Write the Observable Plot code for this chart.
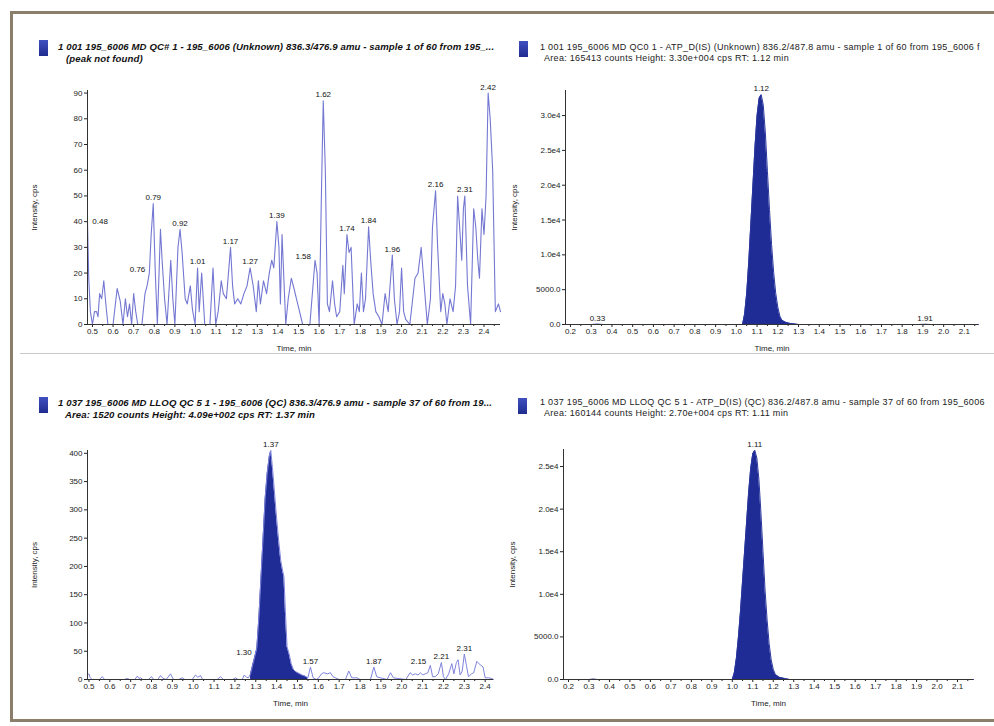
<!DOCTYPE html>
<html><head><meta charset="utf-8">
<script src="https://cdn.jsdelivr.net/npm/d3@7"></script>
<script src="https://cdn.jsdelivr.net/npm/@observablehq/plot@0.6"></script>
<style>
body{margin:0;background:#fff;font-family:"Liberation Sans",Arial,sans-serif;}
#page{position:relative;width:994px;height:726px;overflow:hidden;background:#fff;}
#frame{position:absolute;left:10px;top:11px;width:1000px;height:711px;border:3px solid #8b7f6c;box-sizing:border-box;}
.sq{position:absolute;width:9px;height:16px;background:linear-gradient(#4050c0,#1f2c8f);}
.title{position:absolute;white-space:nowrap;color:#111;}
.bi{font-weight:bold;font-style:italic;font-size:9.6px;letter-spacing:0.1px;line-height:12px;}
.rg{font-size:9px;letter-spacing:0.3px;line-height:11px;color:#222;}
.sep{position:absolute;height:1px;background:#c9c9c9;}
.chart{position:absolute;}
</style></head>
<body><div id="page"><div id="frame"></div></div>
<script>
// ---------- DATA ----------
const titleTL = ["1 001 195_6006 MD QC# 1 - 195_6006 (Unknown) 836.3/476.9 amu - sample 1 of 60 from 195_...", "(peak not found)"];
const titleTR = ["1 001 195_6006 MD QC0 1 - ATP_D(IS) (Unknown) 836.2/487.8 amu - sample 1 of 60 from 195_6006 f", "Area: 165413 counts  Height: 3.30e+004 cps  RT: 1.12 min"];
const titleBL = ["1 037 195_6006 MD LLOQ QC 5 1 - 195_6006 (QC) 836.3/476.9 amu - sample 37 of 60 from 19...", "Area: 1520 counts  Height: 4.09e+002 cps  RT: 1.37 min"];
const titleBR = ["1 037 195_6006 MD LLOQ QC 5 1 - ATP_D(IS) (QC) 836.2/487.8 amu - sample 37 of 60 from 195_6006", "Area: 160144 counts  Height: 2.70e+004 cps  RT: 1.11 min"];

const xLabel = "Time, min";
const yLabel = "Intensity, cps";

const xTicksLeft = [0.5,0.6,0.7,0.8,0.9,1.0,1.1,1.2,1.3,1.4,1.5,1.6,1.7,1.8,1.9,2.0,2.1,2.2,2.3,2.4];
const xTicksRight = [0.2,0.3,0.4,0.5,0.6,0.7,0.8,0.9,1.0,1.1,1.2,1.3,1.4,1.5,1.6,1.7,1.8,1.9,2.0,2.1];

const yTicksTL = [0,10,20,30,40,50,60,70,80,90];
const yLabelsTL = ["0","10","20","30","40","50","60","70","80","90"];
const yTicksTR = [0,5000,10000,15000,20000,25000,30000];
const yLabelsTR = ["0.0","5000.0","1.0e4","1.5e4","2.0e4","2.5e4","3.0e4"];
const yTicksBL = [0,50,100,150,200,250,300,350,400];
const yLabelsBL = ["0","50","100","150","200","250","300","350","400"];
const yTicksBR = [0,5000,10000,15000,20000,25000];
const yLabelsBR = ["0.0","5000.0","1.0e4","1.5e4","2.0e4","2.5e4"];

// Top-left: analyte, QC 1 (noise only)
const timeTL = [0.476,0.482,0.490,0.500,0.510,0.520,0.527,0.535,0.545,0.555,0.565,0.575,0.600,0.620,0.635,0.648,0.660,0.670,0.680,0.690,0.700,0.710,0.720,0.740,0.755,0.765,0.776,0.785,0.795,0.805,0.815,0.830,0.838,0.850,0.862,0.880,0.890,0.900,0.915,0.925,0.935,0.950,0.960,0.975,0.985,0.998,1.010,1.018,1.030,1.045,1.070,1.085,1.098,1.110,1.125,1.135,1.150,1.170,1.180,1.190,1.205,1.220,1.235,1.250,1.265,1.280,1.295,1.305,1.315,1.330,1.345,1.358,1.370,1.380,1.395,1.405,1.412,1.420,1.438,1.450,1.465,1.478,1.490,1.505,1.520,1.555,1.570,1.580,1.590,1.600,1.612,1.620,1.630,1.640,1.650,1.665,1.675,1.685,1.700,1.715,1.722,1.735,1.745,1.755,1.770,1.785,1.795,1.805,1.815,1.825,1.840,1.850,1.862,1.875,1.890,1.905,1.920,1.935,1.955,1.965,1.978,1.990,2.000,2.010,2.020,2.040,2.065,2.080,2.095,2.105,2.125,2.140,2.150,2.165,2.175,2.190,2.200,2.210,2.220,2.235,2.250,2.262,2.272,2.280,2.292,2.300,2.307,2.320,2.335,2.350,2.360,2.370,2.378,2.390,2.400,2.410,2.420,2.430,2.442,2.455,2.470,2.480];
const intensityTL = [40,18,5,0,5,5,3,12,10,17,8,0,0,14,9,0,10,3,8,0,12,5,0,0,12,15,20,35,47,20,0,37,25,10,0,25,10,0,30,37,28,10,8,15,6,0,22,5,20,0,0,22,0,5,17,12,10,30,15,8,10,8,12,15,22,15,5,17,8,17,12,20,25,22,40,30,8,35,0,10,18,14,10,5,0,0,15,25,20,0,55,87,60,8,5,17,8,3,5,23,12,35,28,30,0,8,5,20,5,10,38,25,12,5,3,0,12,5,27,10,0,5,22,5,2,0,18,20,30,20,0,10,38,52,30,5,12,8,0,10,5,15,50,40,25,45,50,15,0,45,38,25,18,45,35,50,90,80,60,5,8,5];
const peakTimeTL = [0.48,0.776,0.795,0.925,1.01,1.17,1.265,1.395,1.58,1.62,1.735,1.84,1.955,2.165,2.307,2.42];
const peakValueTL = [40,20,47,37,22,30,22,40,25,87,35,38,27,52,50,90];
const peakLabelTL = ["0.48","0.76","0.79","0.92","1.01","1.17","1.27","1.39","1.58","1.62","1.74","1.84","1.96","2.16","2.31","2.42"];
const peakSideTL = ["right","left","top","top","top","top","top","top","left","top","top","top","top","top","top","top"];

// Top-right: internal standard, QC 1
const timeTR = [0.176,0.30,0.33,0.36,1.00,1.03,1.04,1.05,1.06,1.07,1.08,1.09,1.10,1.11,1.12,1.13,1.14,1.15,1.16,1.17,1.18,1.19,1.20,1.21,1.22,1.24,1.26,1.28,1.30,1.88,1.91,1.94,2.168];
const intensityTR = [0,0,60,0,0,0,1500,4500,9000,14500,20000,25500,30000,32500,33000,31500,27500,22000,16500,11500,7500,4500,2500,1200,600,300,150,80,0,0,40,0,0];
const peakTimeTR = [0.33,1.12,1.91];
const peakValueTR = [60,33000,40];
const peakLabelTR = ["0.33","1.12","1.91"];
const peakSideTR = ["top","top","top"];
const integTR = [1.02,1.31];

// Bottom-left: analyte, LLOQ QC 5
const timeBL = [0.493,0.500,0.505,0.515,0.550,0.564,0.575,0.670,0.684,0.695,0.720,0.732,0.740,0.748,0.758,0.785,0.800,0.810,0.830,0.843,0.855,0.870,0.891,0.905,0.930,0.947,0.960,0.995,1.011,1.022,1.035,1.045,1.115,1.131,1.145,1.190,1.203,1.215,1.235,1.245,1.255,1.265,1.275,1.285,1.295,1.305,1.315,1.325,1.335,1.345,1.355,1.365,1.372,1.380,1.390,1.400,1.410,1.420,1.430,1.435,1.442,1.450,1.460,1.470,1.480,1.490,1.500,1.510,1.520,1.535,1.550,1.562,1.575,1.590,1.602,1.615,1.626,1.645,1.658,1.670,1.682,1.700,1.730,1.746,1.760,1.786,1.800,1.850,1.866,1.880,1.898,1.930,1.946,1.960,1.978,2.020,2.040,2.052,2.065,2.078,2.090,2.100,2.113,2.125,2.137,2.148,2.160,2.175,2.190,2.200,2.210,2.225,2.240,2.250,2.262,2.270,2.280,2.290,2.300,2.310,2.320,2.335,2.345,2.360,2.370,2.380,2.390,2.400,2.415,2.430,2.440];
const intensityBL = [8,10,4,0,0,5,0,0,2,0,0,6,2,3,0,0,5,0,0,7,2,0,10,0,0,3,0,0,8,4,7,0,0,5,0,0,3,0,0,8,4,3,10,25,40,55,110,180,250,320,365,395,405,375,330,285,245,210,190,182,120,58,45,28,18,14,12,10,8,6,3,22,3,0,3,10,12,10,12,5,3,0,0,15,3,3,0,0,22,5,3,0,12,3,2,0,12,8,10,8,12,8,10,12,25,5,5,10,30,5,0,10,28,10,30,35,8,15,45,25,5,10,12,32,28,25,22,3,3,2,0];
const peakTimeBL = [1.30,1.372,1.562,1.866,2.137,2.19,2.30];
const peakValueBL = [40,405,22,22,25,30,45];
const peakLabelBL = ["1.30","1.37","1.57","1.87","2.15","2.21","2.31"];
const peakSideBL = ["left","top","top","top","left","top","top"];
const integBL = [1.27,1.555];

// Bottom-right: internal standard, LLOQ QC 5
const timeBR = [0.176,0.30,0.32,0.34,1.00,1.01,1.02,1.03,1.04,1.05,1.06,1.07,1.08,1.09,1.10,1.11,1.12,1.13,1.14,1.15,1.16,1.17,1.18,1.19,1.20,1.21,1.23,1.26,1.28,2.178];
const intensityBR = [0,0,60,0,0,800,2500,5000,8000,11500,15000,18500,22000,24800,26500,26900,26000,23500,19500,15000,10500,7000,4200,2300,1200,600,250,100,0,0];
const peakTimeBR = [1.11];
const peakValueBR = [26900];
const peakLabelBR = ["1.11"];
const peakSideBR = ["top"];
const integBR = [0.99,1.29];

// ---------- RENDER ----------
const page = document.getElementById("page");
function header(lines, left, top, cls, indent, sqLeft, sqTop) {
  const sq = document.createElement("div");
  sq.className = "sq"; sq.style.left = sqLeft + "px"; sq.style.top = sqTop + "px";
  page.appendChild(sq);
  const t = document.createElement("div");
  t.className = "title " + cls;
  t.style.left = left + "px"; t.style.top = top + "px";
  t.innerHTML = `<div>${lines[0]}</div><div style="padding-left:${indent}px">${lines[1]}</div>`;
  page.appendChild(t);
}
header(titleTL, 58, 41, "bi", 8, 39, 40);
header(titleTR, 540, 42, "rg", 4, 519, 41);
header(titleBL, 58, 397, "bi", 7, 39, 397);
header(titleBR, 540, 397, "rg", 4, 518, 398);
const sep = document.createElement("div");
sep.className = "sep"; sep.style.left = "20px"; sep.style.top = "353px"; sep.style.width = "974px";
page.appendChild(sep);

function chrom(o) {
  const data = o.t.map((t, i) => ({t, v: o.v[i]}));
  const peaks = o.pt.map((t, i) => ({t, v: o.pv[i], label: o.pl[i], side: o.ps[i]}));
  const minor = o.xTicks.map(d => +(d + 0.05).toFixed(2)).filter(d => d < o.xDomain[1]);
  const marks = [
    Plot.axisY({ticks: o.yTicks, tickFormat: d => o.yLabels[o.yTicks.indexOf(d)], tickSize: 3, tickPadding: 2,
      label: yLabel, labelAnchor: "center", labelArrow: false, labelOffset: o.yLabelOffset, fontSize: 8}),
    Plot.axisX({ticks: o.xTicks, tickFormat: d => d.toFixed(1), tickSize: 3, tickPadding: 1,
      label: xLabel, labelAnchor: "center", labelArrow: false, labelOffset: 26, fontSize: 8}),
    Plot.axisX({ticks: minor, tickSize: 2, tickFormat: () => "", label: null}),
  ];
  if (o.integ) {
    marks.push(Plot.areaY(data, {x: "t", y: "v", filter: d => d.t >= o.integ[0] && d.t <= o.integ[1], fill: "#1f2c95", curve: "linear"}));
  }
  marks.push(Plot.lineY(data, {x: "t", y: "v", stroke: o.lineColor, strokeWidth: o.lineWidth, curve: "linear"}));
  marks.push(Plot.ruleY([0], {stroke: "#333", strokeWidth: 1}));
  marks.push(Plot.ruleX([o.xDomain[0]], {y1: 0, y2: o.yDomain[1], stroke: "#333", strokeWidth: 1}));
  marks.push(Plot.text(peaks.filter(d => d.side === "top"), {x: "t", y: "v", text: "label", dy: -6, fontSize: 8, fill: "#111"}));
  marks.push(Plot.text(peaks.filter(d => d.side === "left"), {x: "t", y: "v", text: "label", dy: -4, dx: -4, textAnchor: "end", fontSize: 8, fill: "#111"}));
  marks.push(Plot.text(peaks.filter(d => d.side === "right"), {x: "t", y: "v", text: "label", dx: 4, textAnchor: "start", fontSize: 8, fill: "#111"}));
  const svg = Plot.plot({
    width: o.width, height: o.height,
    marginLeft: o.m[0], marginRight: o.m[1], marginTop: o.m[2], marginBottom: o.m[3],
    x: {domain: o.xDomain}, y: {domain: o.yDomain},
    style: {fontFamily: "'Liberation Sans', Arial, sans-serif", fontSize: "8px", color: "#222", background: "transparent", overflow: "visible"},
    marks
  });
  svg.classList.add("chart");
  svg.style.left = o.left + "px"; svg.style.top = o.top + "px";
  page.appendChild(svg);
}

chrom({left: 20, top: 70, width: 480, height: 290, m: [67, 0, 20, 36], xDomain: [0.476, 2.48], yDomain: [0, 91],
  t: timeTL, v: intensityTL, pt: peakTimeTL, pv: peakValueTL, pl: peakLabelTL, ps: peakSideTL,
  xTicks: xTicksLeft, yTicks: yTicksTL, yLabels: yLabelsTL, yLabelOffset: 56, lineColor: "#7478d2", lineWidth: 1.1});
chrom({left: 500, top: 70, width: 494, height: 290, m: [65, 16, 20, 36], xDomain: [0.176, 2.168], yDomain: [0, 33600],
  t: timeTR, v: intensityTR, pt: peakTimeTR, pv: peakValueTR, pl: peakLabelTR, ps: peakSideTR, integ: integTR,
  xTicks: xTicksRight, yTicks: yTicksTR, yLabels: yLabelsTR, yLabelOffset: 54, lineColor: "#2a379e", lineWidth: 1});
chrom({left: 20, top: 430, width: 480, height: 290, m: [67, 7, 20, 41], xDomain: [0.493, 2.44], yDomain: [0, 405],
  t: timeBL, v: intensityBL, pt: peakTimeBL, pv: peakValueBL, pl: peakLabelBL, ps: peakSideBL, integ: integBL,
  xTicks: xTicksLeft, yTicks: yTicksBL, yLabels: yLabelsBL, yLabelOffset: 56, lineColor: "#7f84dc", lineWidth: 1});
chrom({left: 500, top: 430, width: 494, height: 290, m: [63, 21, 19, 41], xDomain: [0.1756, 2.178], yDomain: [0, 27000],
  t: timeBR, v: intensityBR, pt: peakTimeBR, pv: peakValueBR, pl: peakLabelBR, ps: peakSideBR, integ: integBR,
  xTicks: xTicksRight, yTicks: yTicksBR, yLabels: yLabelsBR, yLabelOffset: 54, lineColor: "#2a379e", lineWidth: 1});
</script>
</body></html>
